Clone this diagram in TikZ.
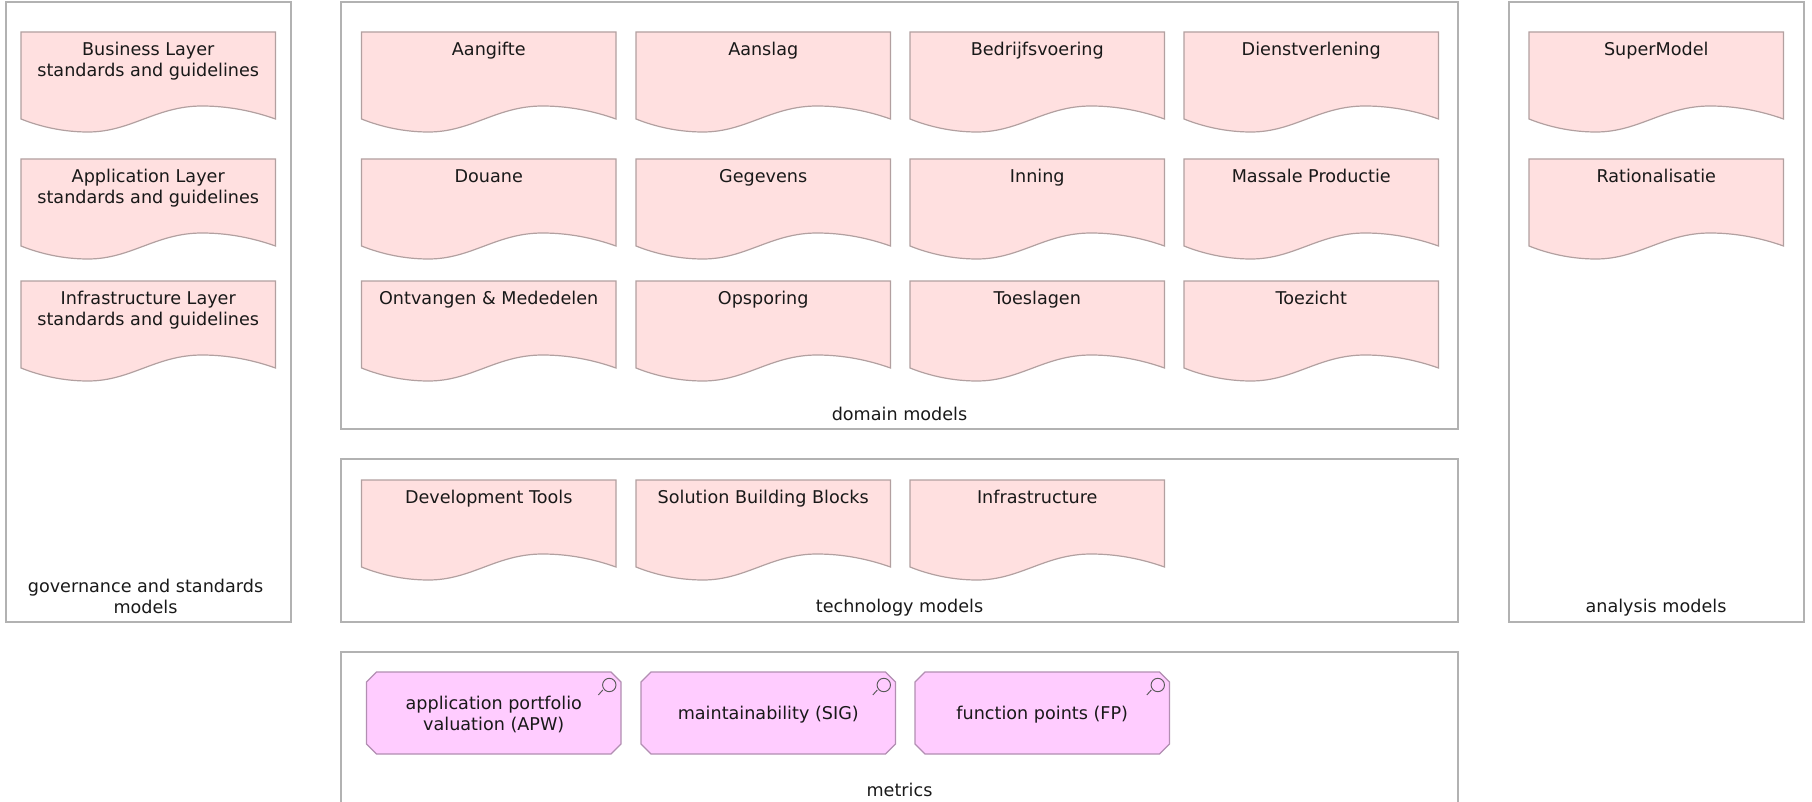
\documentclass[tikz,border=0pt]{standalone}
\usepackage{fontspec}
\setmainfont{DejaVu Sans}

\definecolor{panelgray}{RGB}{178,178,178}
\definecolor{docpink}{RGB}{255,224,224}
\definecolor{docline}{RGB}{178,160,160}
\definecolor{metricpink}{RGB}{255,204,255}
\definecolor{metricline}{RGB}{178,142,178}
\definecolor{labelgray}{RGB}{25,25,25}

\tikzset{every picture/.style={line width=0.75pt}}
\tikzset{
  panelbox/.style={draw=panelgray,line width=1.5pt},
  docbox/.style={draw=docline,fill=docpink,line width=0.9pt},
  metricbox/.style={draw=metricline,fill=metricpink,line width=0.9pt},
  lenshape/.style={draw=black!65,line width=0.7pt},
  doclabel/.style={anchor=north,inner sep=0pt,align=center,text=labelgray,font=\fontsize{13.2}{15.75}\selectfont},
}

% document shape with its label
\newcommand{\docnode}[4]{
  \draw [docbox,shift={(#2,#3)}] (0,0) -- (254.5,0) -- (254.5,87) .. controls (232,79) and (207,74) .. (181,74) .. controls (135,74) and (110,100) .. (67,100) .. controls (43,100) and (20,95) .. (0,87) -- cycle ;
  \node (#1) [doclabel] at ({#2+127.25},{#3+10}) {#4};
}
% metric shape with its label and lens
\newcommand{\metricnode}[3]{
  \draw [metricbox,shift={(#2,672)}] (10,0) -- (244.5,0) -- (254.5,10) -- (254.5,72) -- (244.5,82) -- (10,82) -- (0,72) -- (0,10) -- cycle ;
  \draw [lenshape,shift={(#2,672)}] (242.8,13) circle (6.7) ;
  \draw [lenshape,shift={(#2,672)}] (236.3,18) -- (231.8,23) ;
  \node (#1) [doclabel,anchor=center] at ({#2+127.25},714.5) {#3};
}

\begin{document}
\begin{tikzpicture}[x=0.75pt,y=0.75pt,yscale=-1,xscale=1]
\useasboundingbox (0,0) rectangle (1812,802);

%Panels
\draw [panelbox] (6,2) rectangle (291,622) ;
\draw [panelbox] (341,2) rectangle (1458,429) ;
\draw [panelbox] (341,459) rectangle (1458,622) ;
\draw [panelbox] (341,652) rectangle (1458,830) ;
\draw [panelbox] (1509,2) rectangle (1804,622) ;

%governance documents
\docnode{businessdoc}{21}{32}{Business Layer\\standards and guidelines}
\docnode{applicationdoc}{21}{159}{Application Layer\\standards and guidelines}
\docnode{infrastructuredoc}{21}{281}{Infrastructure Layer\\standards and guidelines}

%domain documents
\docnode{aangifte}{361.5}{32}{Aangifte}
\docnode{aanslag}{636}{32}{Aanslag}
\docnode{bedrijfsvoering}{910}{32}{Bedrijfsvoering}
\docnode{dienstverlening}{1184}{32}{Dienstverlening}
\docnode{douane}{361.5}{159}{Douane}
\docnode{gegevens}{636}{159}{Gegevens}
\docnode{inning}{910}{159}{Inning}
\docnode{massale}{1184}{159}{Massale Productie}
\docnode{ontvangen}{361.5}{281}{Ontvangen \& Mededelen}
\docnode{opsporing}{636}{281}{Opsporing}
\docnode{toeslagen}{910}{281}{Toeslagen}
\docnode{toezicht}{1184}{281}{Toezicht}

%technology documents
\docnode{devtools}{361.5}{480}{Development Tools}
\docnode{solution}{636}{480}{Solution Building Blocks}
\docnode{infrastructure}{910}{480}{Infrastructure}

%analysis documents
\docnode{supermodel}{1529}{32}{SuperModel}
\docnode{rationalisatie}{1529}{159}{Rationalisatie}

%metrics
\metricnode{apw}{366.5}{application portfolio\\valuation (APW)}
\metricnode{sig}{641}{maintainability (SIG)}
\metricnode{fp}{915}{function points (FP)}

% Text Node
\node (governancelabel) [doclabel] at (145.5,578.5) {governance and standards\\models};
% Text Node
\node (domainlabel) [doclabel,anchor=center] at (899.5,414) {domain models};
% Text Node
\node (technologylabel) [doclabel,anchor=center] at (899.5,608) {technology models};
% Text Node
\node (metricslabel) [doclabel,anchor=center] at (899.5,789.5) {metrics};
% Text Node
\node (analysislabel) [doclabel,anchor=center] at (1656,608) {analysis models};

\end{tikzpicture}
\end{document}
